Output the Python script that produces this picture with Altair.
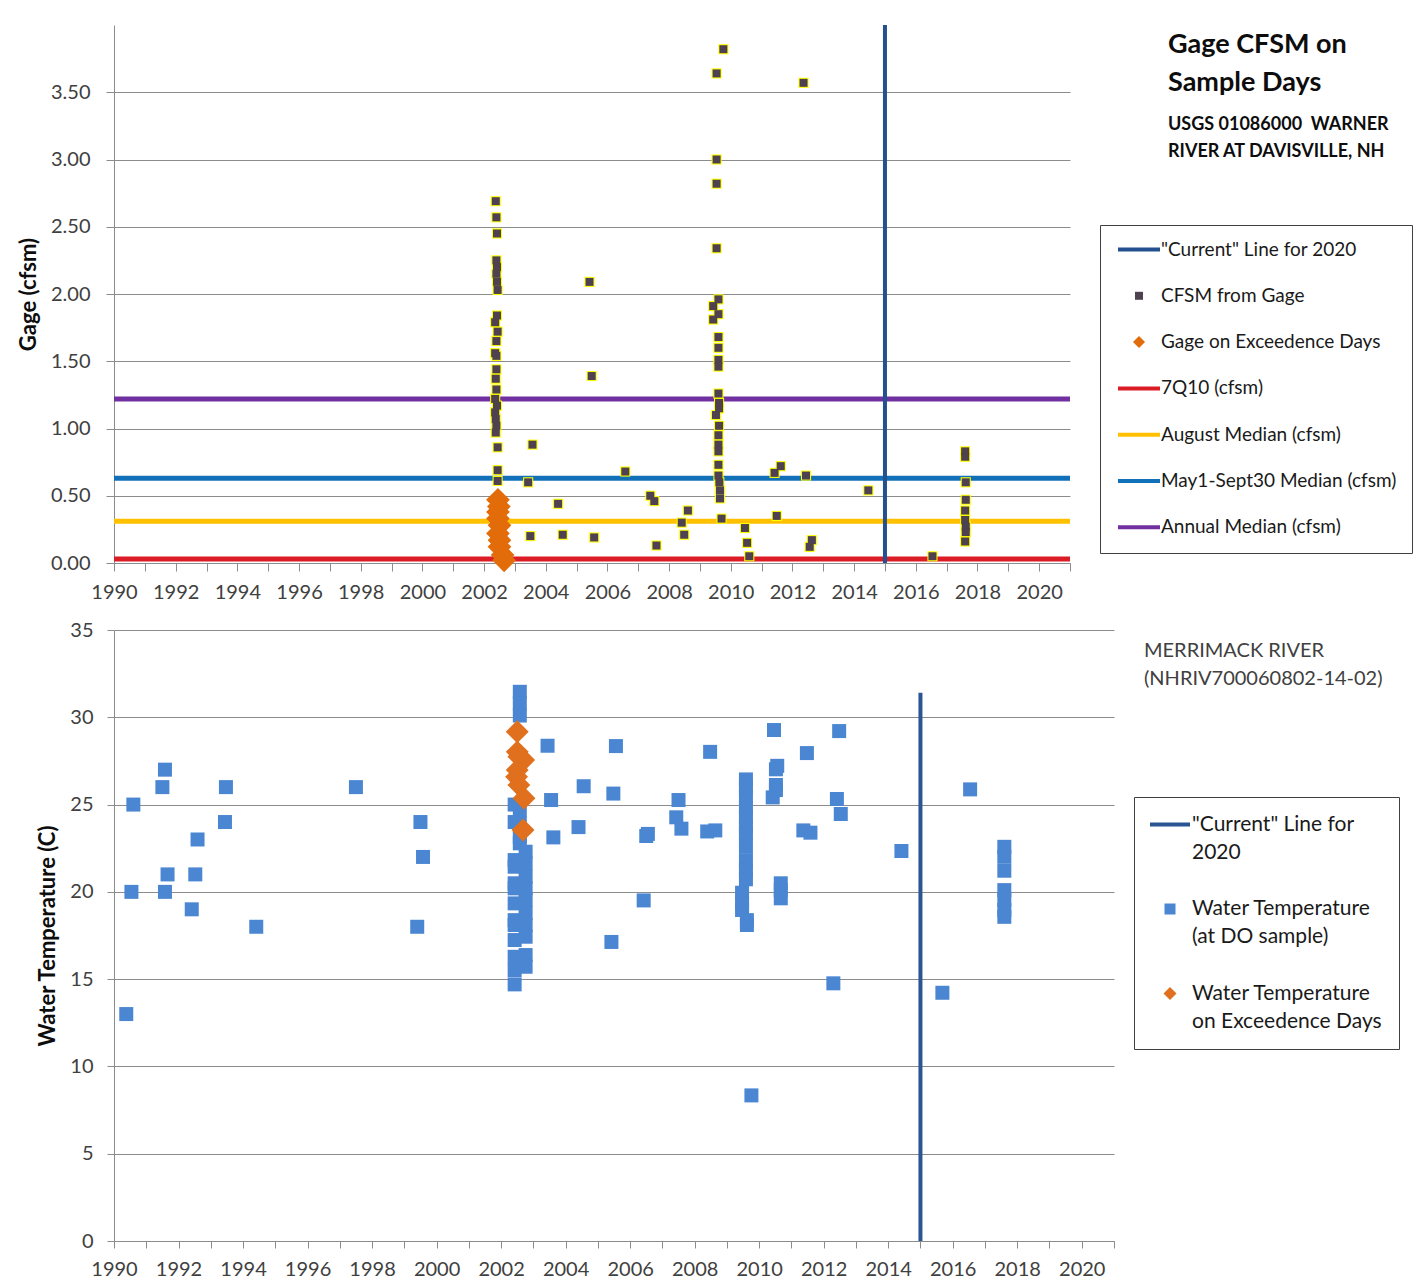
import altair as alt
import pandas as pd

FONT = "Lato"
AXIS_GRAY = "#8c8c8c"
TEXT_GRAY = "#404040"

# ---------------- Gage CFSM on sample days (USGS 01086000) ----------------
cfsm_year = [
    2002.38, 2002.40, 2002.42, 2002.40, 2002.42, 2002.40, 2002.42, 2002.44,
    2002.42, 2002.36, 2002.44, 2002.40, 2002.36, 2002.40, 2002.40, 2002.38,
    2002.40, 2002.36, 2002.42, 2002.36, 2002.38, 2002.40, 2002.38, 2002.44,
    2002.44, 2002.44,
    2003.57, 2003.43, 2003.50, 2004.40, 2004.55, 2005.42, 2005.49, 2005.57,
    2006.58, 2007.39, 2007.52, 2007.59, 2008.41, 2008.49, 2008.61,
    2009.76, 2009.54, 2009.54, 2009.54, 2009.54, 2009.60, 2009.43, 2009.60,
    2009.43, 2009.60, 2009.60, 2009.60, 2009.60, 2009.60, 2009.62, 2009.62,
    2009.52, 2009.62, 2009.60, 2009.60, 2009.60, 2009.60, 2009.60, 2009.63,
    2009.65, 2009.65, 2009.70,
    2010.46, 2010.53, 2010.60, 2011.42, 2011.62, 2011.49, 2012.36, 2012.44,
    2012.63, 2012.56, 2014.46, 2016.54,
    2017.60, 2017.60, 2017.62, 2017.62, 2017.60, 2017.60, 2017.62, 2017.62, 2017.60,
]
cfsm_value = [
    2.69, 2.57, 2.45, 2.25, 2.20, 2.15, 2.09, 2.03,
    1.84, 1.79, 1.72, 1.65, 1.56, 1.54, 1.44, 1.37,
    1.29, 1.22, 1.17, 1.12, 1.07, 1.02, 0.97, 0.86,
    0.69, 0.61,
    0.88, 0.60, 0.20, 0.44, 0.21, 2.09, 1.39, 0.19,
    0.68, 0.50, 0.46, 0.13, 0.30, 0.21, 0.39,
    3.82, 3.64, 3.00, 2.82, 2.34, 1.96, 1.91, 1.85,
    1.81, 1.68, 1.60, 1.51, 1.46, 1.26, 1.19, 1.15,
    1.10, 1.02, 0.95, 0.88, 0.83, 0.73, 0.65, 0.60,
    0.54, 0.48, 0.33,
    0.26, 0.15, 0.05, 0.67, 0.72, 0.35, 3.57, 0.65,
    0.17, 0.12, 0.54, 0.05,
    0.83, 0.79, 0.60, 0.47, 0.39, 0.32, 0.27, 0.23, 0.16,
]

exceed_gage_year = [2002.45, 2002.48, 2002.45, 2002.45, 2002.50,
                    2002.45, 2002.50, 2002.50, 2002.60, 2002.65]
exceed_gage_value = [0.47, 0.42, 0.38, 0.33, 0.28, 0.22, 0.17, 0.12, 0.06, 0.02]

flow_names = ["7Q10 (cfsm)", "August Median (cfsm)",
              "May1-Sept30 Median (cfsm)", "Annual Median (cfsm)"]
flow_values = [0.03, 0.31, 0.63, 1.22]
flow_colors = ["#dc1c24", "#ffc000", "#1170b8", "#7030a0"]

current_name = '"Current" Line for 2020'
current_color = "#24508f"
current_year = [2015.0]

top_series = [current_name, "CFSM from Gage", "Gage on Exceedence Days"] + flow_names
top_colors = [current_color, "#4f4250", "#e36c0a"] + flow_colors

# ---------------- Merrimack River water temperature ----------------
temp_year = [
    1990.38, 1990.54, 1990.60, 1991.50, 1991.58, 1991.58, 1991.66, 1992.41,
    1992.52, 1992.59, 1993.44, 1993.47, 1994.41, 1997.50, 1999.40, 1999.50, 1999.58,
    2002.58, 2002.58, 2002.58, 2002.58, 2002.58, 2002.58, 2002.58,
    2002.42, 2002.42, 2002.42, 2002.42, 2002.42, 2002.42, 2002.42,
    2002.42, 2002.42, 2002.42, 2002.42, 2002.42, 2002.42,
    2002.76, 2002.76, 2002.76, 2002.76, 2002.76,
    2002.76, 2002.76, 2002.76, 2002.76, 2002.76,
    2003.44, 2003.55, 2003.62, 2004.40, 2004.56, 2005.42, 2005.48, 2005.56,
    2006.42, 2006.50, 2006.55, 2007.43, 2007.50, 2007.59, 2008.39, 2008.48, 2008.64,
    2009.59, 2009.59, 2009.59, 2009.59, 2009.59, 2009.59, 2009.59, 2009.59,
    2009.59, 2009.59, 2009.59, 2009.47, 2009.47, 2009.47, 2009.62, 2009.62,
    2009.76,
    2010.46, 2010.56, 2010.52, 2010.52, 2010.52, 2010.42,
    2010.67, 2010.67, 2010.67,
    2011.37, 2011.59, 2011.48, 2012.30, 2012.41, 2012.48, 2012.53,
    2014.41, 2015.68, 2016.54,
    2017.60, 2017.60, 2017.60, 2017.60, 2017.60, 2017.60, 2017.60,
]
temp_value = [
    13.0, 20.0, 25.0, 26.0, 27.0, 20.0, 21.0, 19.0,
    21.0, 23.0, 24.0, 26.0, 18.0, 26.0, 18.0, 24.0, 22.0,
    31.46, 30.80, 30.10, 24.69, 23.92, 23.16, 22.78,
    25.00, 24.00, 21.82, 21.44, 20.49, 20.20, 19.34,
    18.38, 18.10, 17.24, 16.28, 15.52, 14.70,
    22.30, 21.63, 20.87, 20.20, 19.53,
    18.77, 18.10, 17.43, 16.38, 15.71,
    28.37, 25.26, 23.12, 23.71, 26.05, 17.13, 25.63, 28.35,
    19.51, 23.20, 23.32, 24.27, 25.26, 23.62, 23.46, 28.02, 23.52,
    26.44, 26.02, 25.49, 24.78, 24.30, 23.73, 23.35, 22.62,
    21.82, 21.25, 20.72, 19.95, 19.34, 18.96, 18.38, 18.10,
    8.34,
    29.27, 27.22, 27.02, 26.12, 25.83, 25.41,
    20.49, 20.10, 19.63,
    23.52, 23.39, 27.95, 14.76, 25.32, 29.21, 24.46,
    22.34, 14.22, 25.87,
    22.58, 22.01, 21.21, 20.10, 19.53, 18.96, 18.57,
]

exceed_temp_year = [2002.50, 2002.50, 2002.55, 2002.70, 2002.50,
                    2002.48, 2002.55, 2002.71, 2002.68]
exceed_temp_value = [29.17, 28.02, 27.74, 27.55, 26.98, 26.59, 26.12, 25.36, 23.54]

current_temp_top = [31.4]

bottom_series = [current_name, "Water Temperature (at DO sample)",
                 "Water Temperature on Exceedence Days"]
bottom_colors = ["#2a5592", "#4a86d1", "#e0701e"]
bottom_wrapped = {
    current_name: ['"Current" Line for', "2020"],
    "Water Temperature (at DO sample)": ["Water Temperature", "(at DO sample)"],
    "Water Temperature on Exceedence Days": ["Water Temperature", "on Exceedence Days"],
}

# ---------------- symbol paths (unit space, scaled by sqrt(size)/2) ----------------
LINE_TOP = "M-4.2,-0.4H4.2V0.4H-4.2Z"
LINE_BOTTOM = "M-4,-0.4H4V0.4H-4Z"
SQUARE_TOP = "M-0.8,-0.8H0.8V0.8H-0.8Z"
DIAMOND_TOP = "M0,-1.2L1.2,0L0,1.2L-1.2,0Z"
SQUARE_BOTTOM = "M-1.1,-1.1H1.1V1.1H-1.1Z"
DIAMOND_BOTTOM = "M0,-1.3L1.3,0L0,1.3L-1.3,0Z"

x_years = list(range(1990, 2022))


def year_axis(tick):
    return alt.Axis(
        values=x_years, format="d",
        labelExpr="datum.value % 2 == 0 ? datum.label : ''",
        labelOverlap=False, labelFlush=False, grid=False,
        domainColor=AXIS_GRAY, tickColor=AXIS_GRAY, tickSize=tick,
        labelPadding=11, labelFont=FONT, labelFontSize=20, labelColor=TEXT_GRAY,
        title=None,
    )


def year_x(tick):
    return alt.X("year:Q", scale=alt.Scale(domain=[1990, 2021], nice=False, zero=False),
                 axis=year_axis(tick))


# ================= top panel =================
cfsm_df = pd.DataFrame({"year": cfsm_year, "value": cfsm_value, "series": "CFSM from Gage"})
exceed_gage_df = pd.DataFrame({"year": exceed_gage_year, "value": exceed_gage_value,
                               "series": "Gage on Exceedence Days"})
flow_df = pd.DataFrame({"value": flow_values, "series": flow_names})
current_top_df = pd.DataFrame({"year": current_year, "series": current_name})

top_y = alt.Y(
    "value:Q", scale=alt.Scale(domain=[0, 4], nice=False),
    axis=alt.Axis(
        values=[0, 0.5, 1, 1.5, 2, 2.5, 3, 3.5], format=".2f",
        grid=True, gridColor=AXIS_GRAY, domainColor=AXIS_GRAY, tickColor=AXIS_GRAY,
        tickSize=8, labelPadding=16, labelFont=FONT, labelFontSize=20, labelColor=TEXT_GRAY,
        title="Gage (cfsm)", titleFont=FONT, titleFontSize=22, titleFontWeight="bold",
        titleColor="#0d0d0d", titlePadding=10,
    ),
)
# reference lines are coloured through the stroke channel (lines only);
# the legend is built from the colour + shape channels of the point layers
top_stroke_scale = alt.Scale(domain=[current_name] + flow_names,
                             range=[current_color] + flow_colors)
top_color_scale = alt.Scale(domain=top_series, range=top_colors)
top_shape_scale = alt.Scale(
    domain=top_series,
    range=[LINE_TOP, SQUARE_TOP, DIAMOND_TOP, LINE_TOP, LINE_TOP, LINE_TOP, LINE_TOP],
)
top_legend = alt.Legend(
    title=None, orient="none", legendX=986, legendY=200, padding=15, rowPadding=26.3,
    symbolSize=100, symbolOffset=14.5, labelOffset=12.5, symbolStrokeWidth=0,
    labelFont=FONT, labelFontSize=19, labelColor="#1a1a1a", labelLimit=400,
    strokeColor="#404040", fillColor="#ffffff",
)

flow_lines = alt.Chart(flow_df).mark_rule(strokeWidth=5).encode(
    y=top_y, stroke=alt.Stroke("series:N", scale=top_stroke_scale, legend=None))
current_top = alt.Chart(current_top_df).mark_rule(strokeWidth=4).encode(
    x=year_x(8), stroke=alt.Stroke("series:N", scale=top_stroke_scale, legend=None))
cfsm_edge = alt.Chart(cfsm_df).mark_point(
    shape=SQUARE_TOP, filled=True, size=160, color="#ffff00", opacity=1
).encode(x=year_x(8), y=top_y)
cfsm_pts = alt.Chart(cfsm_df).mark_point(filled=True, size=100, opacity=1).encode(
    x=year_x(8), y=top_y,
    color=alt.Color("series:N", scale=top_color_scale, legend=top_legend),
    shape=alt.Shape("series:N", scale=top_shape_scale, legend=top_legend),
)
exceed_gage_pts = alt.Chart(exceed_gage_df).mark_point(filled=True, size=390, opacity=1).encode(
    x=year_x(8), y=top_y,
    color=alt.Color("series:N", scale=top_color_scale, legend=top_legend),
    shape=alt.Shape("series:N", scale=top_shape_scale, legend=top_legend),
)
one_row = pd.DataFrame({"k": [0]})
top_title = alt.Chart(one_row).mark_text(
    text=["Gage CFSM on", "Sample Days"], font=FONT, fontSize=27, fontWeight="bold",
    align="left", baseline="top", lineHeight=38, color="#0d0d0d",
).encode(x=alt.value(1054), y=alt.value(7))
top_subtitle = alt.Chart(one_row).mark_text(
    text=["USGS 01086000\u00a0 WARNER", "RIVER AT DAVISVILLE, NH"], font=FONT, fontSize=18,
    fontWeight="bold", align="left", baseline="top", lineHeight=27, color="#0d0d0d",
).encode(x=alt.value(1054), y=alt.value(91))

top = alt.layer(
    flow_lines, current_top, cfsm_edge, cfsm_pts, exceed_gage_pts, top_title, top_subtitle
).properties(width=956, height=538)

# ================= bottom panel =================
temp_df = pd.DataFrame({"year": temp_year, "value": temp_value,
                        "series": "Water Temperature (at DO sample)"})
exceed_temp_df = pd.DataFrame({"year": exceed_temp_year, "value": exceed_temp_value,
                               "series": "Water Temperature on Exceedence Days"})
current_bottom_df = pd.DataFrame({"year": current_year, "value": [0.0],
                                  "top": current_temp_top, "series": current_name})

bottom_y = alt.Y(
    "value:Q", scale=alt.Scale(domain=[0, 35], nice=False),
    axis=alt.Axis(
        values=[0, 5, 10, 15, 20, 25, 30, 35], format="d",
        grid=True, gridColor=AXIS_GRAY, domainColor=AXIS_GRAY, tickColor=AXIS_GRAY,
        tickSize=7, labelPadding=14, labelFont=FONT, labelFontSize=20, labelColor=TEXT_GRAY,
        title="Water Temperature (C)", titleFont=FONT, titleFontSize=22,
        titleFontWeight="bold", titleColor="#0d0d0d", titlePadding=10,
    ),
)


def wrap_expr(wrapped):
    expr = "datum.label"
    for full, lines in reversed(list(wrapped.items())):
        arr = "[" + ", ".join("'" + s + "'" for s in lines) + "]"
        expr = "datum.label == '" + full + "' ? " + arr + " : (" + expr + ")"
    return expr


bottom_stroke_scale = alt.Scale(domain=[current_name], range=[bottom_colors[0]])
bottom_color_scale = alt.Scale(domain=bottom_series, range=bottom_colors)
bottom_shape_scale = alt.Scale(domain=bottom_series,
                               range=[LINE_BOTTOM, SQUARE_BOTTOM, DIAMOND_BOTTOM])
bottom_legend = alt.Legend(
    title=None, orient="none", legendX=1020, legendY=167, padding=17, rowPadding=34.5,
    symbolSize=100, symbolOffset=8.5, labelOffset=11.5, symbolStrokeWidth=0,
    labelFont=FONT, labelFontSize=21, labelColor="#1a1a1a", labelLimit=400,
    labelBaseline="middle", labelExpr=wrap_expr(bottom_wrapped),
    strokeColor="#404040", fillColor="#ffffff",
)

current_bottom = alt.Chart(current_bottom_df).mark_rule(strokeWidth=4).encode(
    x=year_x(7), y=bottom_y, y2="top:Q",
    stroke=alt.Stroke("series:N", scale=bottom_stroke_scale, legend=None))
temp_pts = alt.Chart(temp_df).mark_point(filled=True, size=162, opacity=1).encode(
    x=year_x(7), y=bottom_y,
    color=alt.Color("series:N", scale=bottom_color_scale, legend=bottom_legend),
    shape=alt.Shape("series:N", scale=bottom_shape_scale, legend=bottom_legend),
)
exceed_temp_pts = alt.Chart(exceed_temp_df).mark_point(filled=True, size=310, opacity=1).encode(
    x=year_x(7), y=bottom_y,
    color=alt.Color("series:N", scale=bottom_color_scale, legend=bottom_legend),
    shape=alt.Shape("series:N", scale=bottom_shape_scale, legend=bottom_legend),
)
site_label = alt.Chart(one_row).mark_text(
    text=["MERRIMACK RIVER", "(NHRIV700060802-14-02)"], font=FONT, fontSize=20,
    align="left", baseline="top", lineHeight=28, color=TEXT_GRAY,
).encode(x=alt.value(1030), y=alt.value(11))

bottom = alt.layer(
    current_bottom, temp_pts, exceed_temp_pts, site_label
).properties(width=1000, height=611)

chart = alt.vconcat(top, bottom, spacing=16).resolve_scale(
    x="independent", y="independent", color="independent", shape="independent",
    stroke="independent",
).resolve_legend(
    color="independent", shape="independent"
).properties(
    padding={"left": 16, "top": 22, "right": 2, "bottom": 3},
    background="#ffffff",
).configure(
    view=alt.ViewConfig(stroke="transparent"),
    style={"guide-label": {"lineHeight": 28}},
)

chart.save("out.html", embed_options={"renderer": "svg", "actions": False})
